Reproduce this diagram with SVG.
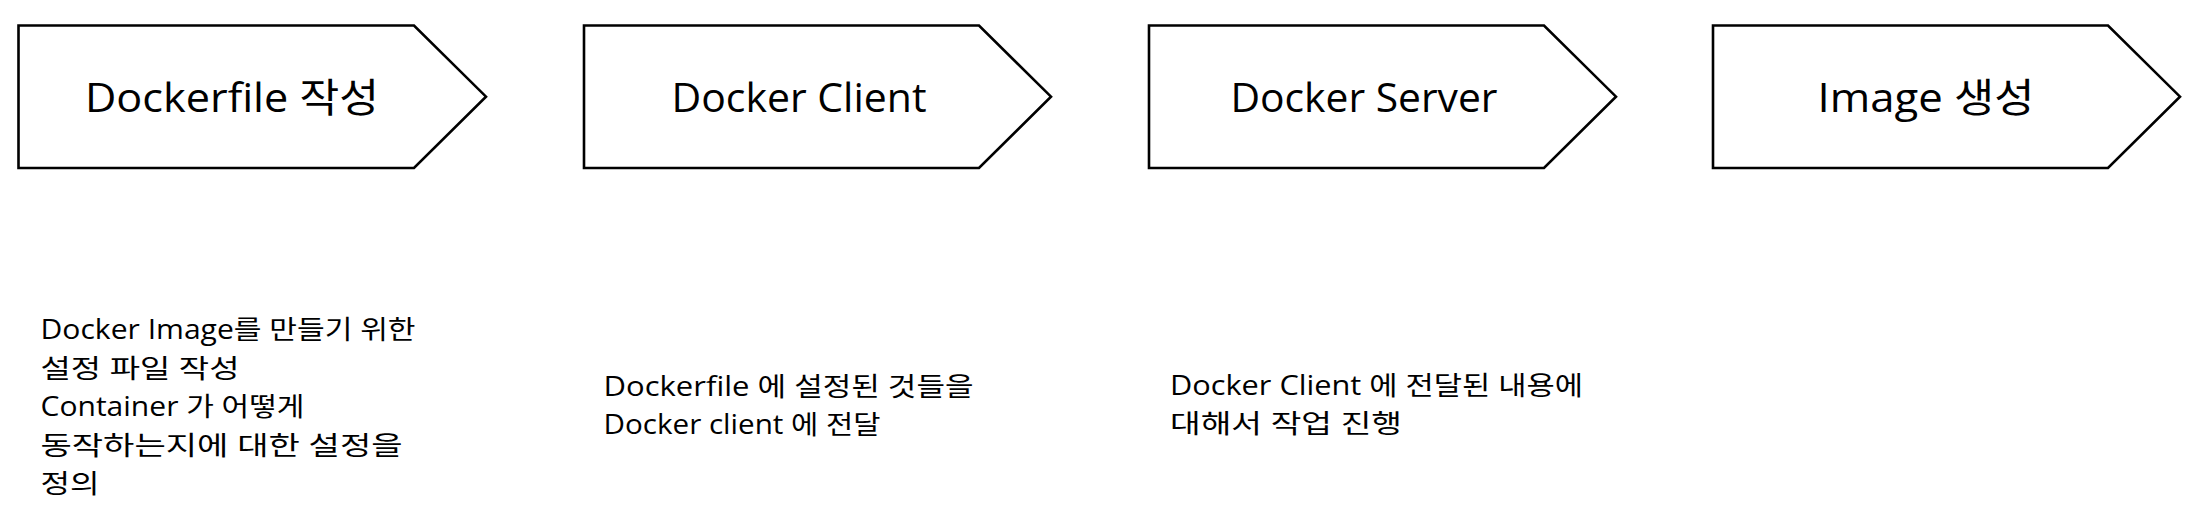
<svg xmlns="http://www.w3.org/2000/svg" width="2202" height="516" viewBox="0 0 2202 516">
<style>
.shape{fill:#ffffff;stroke:#000000;stroke-width:2.6;stroke-linejoin:miter}
.title{font-family:"Open Sans","Noto Sans CJK KR",sans-serif;font-size:40px;fill:#000000;text-anchor:middle}
.desc{font-family:"Open Sans","Noto Sans CJK KR",sans-serif;font-size:26.5px;fill:#000000}
</style>
<rect x="0" y="0" width="2202" height="516" fill="#ffffff"/>
<g id="node-dockerfile">
<polygon class="shape" points="18.5,25.5 414,25.5 486,96.7 414,168 18.5,168"/>
<text class="title" x="232" y="112" textLength="294" lengthAdjust="spacingAndGlyphs">Dockerfile 작성</text>
</g>
<g id="node-client">
<polygon class="shape" points="584,25.5 979,25.5 1051,96.7 979,168 584,168"/>
<text class="title" x="799" y="112" textLength="255" lengthAdjust="spacingAndGlyphs">Docker Client</text>
</g>
<g id="node-server">
<polygon class="shape" points="1149,25.5 1544,25.5 1616,96.7 1544,168 1149,168"/>
<text class="title" x="1364" y="112" textLength="267" lengthAdjust="spacingAndGlyphs">Docker Server</text>
</g>
<g id="node-image">
<polygon class="shape" points="1713,25.5 2108,25.5 2180,96.7 2108,168 1713,168"/>
<text class="title" x="1926" y="112" textLength="217" lengthAdjust="spacingAndGlyphs">Image 생성</text>
</g>
<g id="connectors"></g>
<g id="desc-dockerfile">
<text class="desc" x="40.5" y="339" textLength="375" lengthAdjust="spacingAndGlyphs">Docker Image를 만들기 위한</text>
<text class="desc" x="40.5" y="377.5" textLength="199" lengthAdjust="spacingAndGlyphs">설정 파일 작성</text>
<text class="desc" x="40.5" y="416" textLength="264" lengthAdjust="spacingAndGlyphs">Container 가 어떻게</text>
<text class="desc" x="40.5" y="454.5" textLength="362" lengthAdjust="spacingAndGlyphs">동작하는지에 대한 설정을</text>
<text class="desc" x="40.5" y="493" textLength="59" lengthAdjust="spacingAndGlyphs">정의</text>
</g>
<g id="desc-client">
<text class="desc" x="603.5" y="396" textLength="370" lengthAdjust="spacingAndGlyphs">Dockerfile 에 설정된 것들을</text>
<text class="desc" x="603.5" y="434" textLength="277" lengthAdjust="spacingAndGlyphs">Docker client 에 전달</text>
</g>
<g id="desc-server">
<text class="desc" x="1170" y="395" textLength="413" lengthAdjust="spacingAndGlyphs">Docker Client 에 전달된 내용에</text>
<text class="desc" x="1170" y="433" textLength="232" lengthAdjust="spacingAndGlyphs">대해서 작업 진행</text>
</g>
</svg>
